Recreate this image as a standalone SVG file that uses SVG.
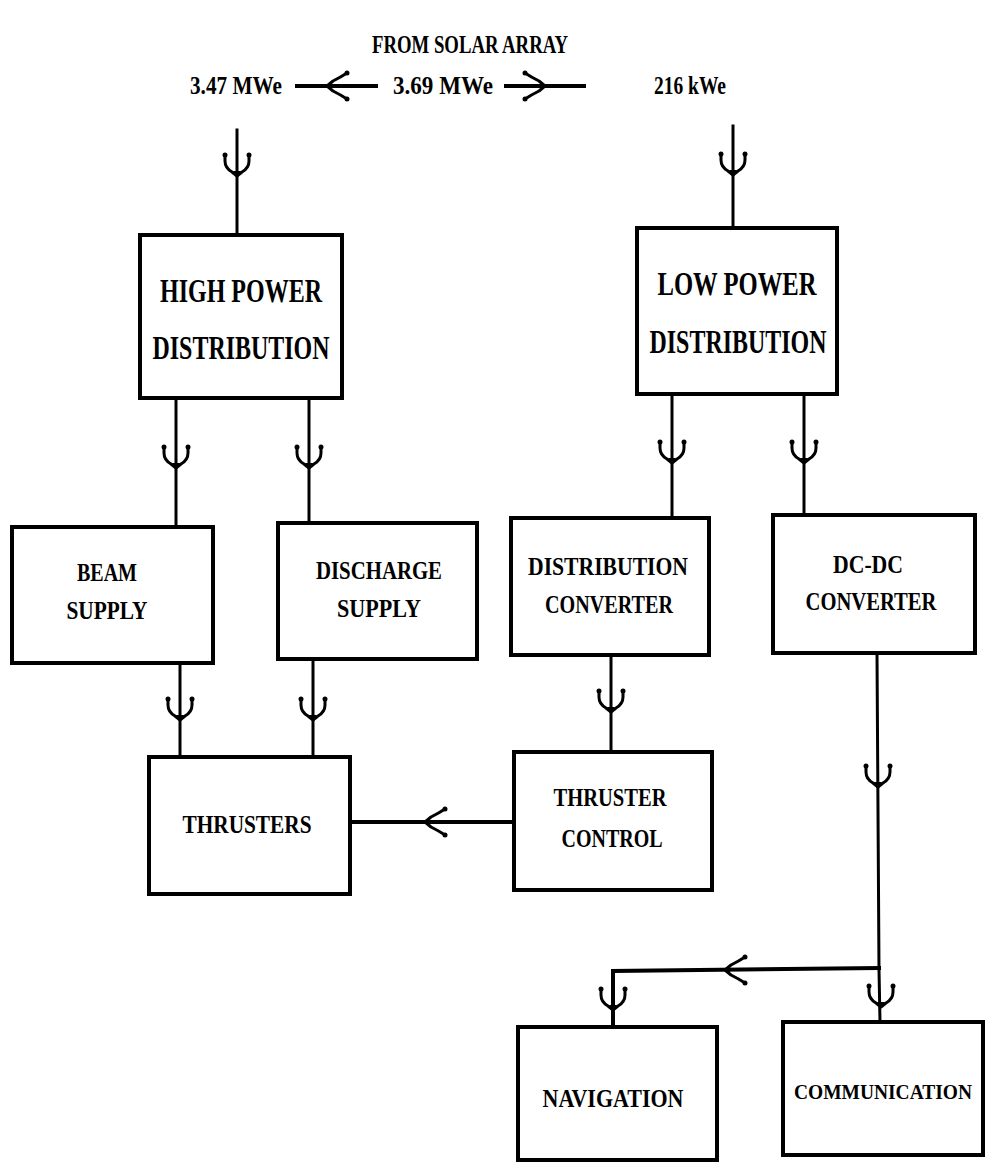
<svg xmlns="http://www.w3.org/2000/svg" xmlns:xlink="http://www.w3.org/1999/xlink" width="989" height="1162" viewBox="0 0 989 1162">
<style>
.box{fill:#fff;stroke:#000;stroke-width:4}
.ln{fill:none;stroke:#000;stroke-width:3;stroke-linecap:square}
.thick{stroke-width:4}
.t{font-family:"Liberation Serif",serif;font-weight:bold;fill:#000;text-anchor:middle}
.s{font-size:26px}
.l{font-size:34px}
.fk{fill:none;stroke:#000;stroke-width:3;stroke-linecap:round;stroke-linejoin:round}
</style>
<defs>
<g id="fork">
<path class="fk" d="M-12,-21 L-12,-15 Q-12,-8 -5,-4 L0,0 M12,-21 L12,-15 Q12,-8 5,-4 L0,0"/>
<circle cx="-12" cy="-21" r="2.5"/><circle cx="12" cy="-21" r="2.5"/>
<path d="M-4,-5 L4,-5 L0,1 Z"/>
</g>
<g id="hfork">
<path class="fk" d="M-13,-20 Q-9,-14 -5,-6 L0,0 M13,-20 Q9,-14 5,-6 L0,0"/>
<circle cx="-13" cy="-20" r="2.5"/><circle cx="13" cy="-20" r="2.5"/>
<path d="M-4,-5 L4,-5 L0,1 Z"/>
</g>
</defs>
<rect width="989" height="1162" fill="#fff"/>

<g id="title">
<text class="t s" x="470" y="53" textLength="196" lengthAdjust="spacingAndGlyphs">FROM SOLAR ARRAY</text>
<text class="t s" x="236" y="94" textLength="92" lengthAdjust="spacingAndGlyphs">3.47 MWe</text>
<text class="t s" x="443" y="94" textLength="100" lengthAdjust="spacingAndGlyphs">3.69 MWe</text>
<text class="t s" x="690" y="94" textLength="72" lengthAdjust="spacingAndGlyphs">216 kWe</text>
</g>

<g id="connectors">
<line class="ln thick" x1="297" y1="86" x2="376" y2="86"/>
<use xlink:href="#hfork" transform="translate(327,86) rotate(90)"/>
<line class="ln thick" x1="506" y1="86" x2="584" y2="86"/>
<use xlink:href="#hfork" transform="translate(545,86) rotate(-90)"/>

<line class="ln" x1="237" y1="130" x2="237" y2="235"/>
<use xlink:href="#fork" transform="translate(237,176)"/>
<line class="ln" x1="733" y1="126" x2="733" y2="228"/>
<use xlink:href="#fork" transform="translate(733,175)"/>

<line class="ln" x1="176" y1="398" x2="176" y2="527"/>
<use xlink:href="#fork" transform="translate(176,468)"/>
<line class="ln" x1="309" y1="398" x2="309" y2="523"/>
<use xlink:href="#fork" transform="translate(309,468)"/>

<line class="ln" x1="672" y1="394" x2="672" y2="518"/>
<use xlink:href="#fork" transform="translate(672,463)"/>
<line class="ln" x1="804" y1="394" x2="804" y2="515"/>
<use xlink:href="#fork" transform="translate(804,463)"/>

<line class="ln" x1="180" y1="663" x2="180" y2="757"/>
<use xlink:href="#fork" transform="translate(180,720)"/>
<line class="ln" x1="313" y1="659" x2="313" y2="757"/>
<use xlink:href="#fork" transform="translate(313,720)"/>

<line class="ln" x1="611" y1="655" x2="611" y2="752"/>
<use xlink:href="#fork" transform="translate(611,712)"/>

<line class="ln thick" x1="350" y1="822" x2="514" y2="822"/>
<use xlink:href="#hfork" transform="translate(425,822) rotate(90)"/>

<path class="ln" d="M877,653 L879,970 L880,1022"/>
<use xlink:href="#fork" transform="translate(878,787)"/>
<use xlink:href="#fork" transform="translate(881,1007)"/>
<path class="ln thick" d="M879,968 L613,971 L613,1027"/>
<use xlink:href="#hfork" transform="translate(725,970) rotate(90)"/>
<use xlink:href="#fork" transform="translate(613,1010)"/>
</g>

<g id="high-power-distribution">
<rect class="box" x="140" y="235" width="202" height="163"/>
<text class="t l" x="241" y="302" textLength="162" lengthAdjust="spacingAndGlyphs">HIGH POWER</text>
<text class="t l" x="241" y="359" textLength="177" lengthAdjust="spacingAndGlyphs">DISTRIBUTION</text>
</g>
<g id="low-power-distribution">
<rect class="box" x="637" y="228" width="200" height="166"/>
<text class="t l" x="737" y="295" textLength="159" lengthAdjust="spacingAndGlyphs">LOW POWER</text>
<text class="t l" x="738" y="353" textLength="177" lengthAdjust="spacingAndGlyphs">DISTRIBUTION</text>
</g>
<g id="beam-supply">
<rect class="box" x="12" y="527" width="201" height="136"/>
<text class="t s" x="107" y="581" textLength="60" lengthAdjust="spacingAndGlyphs">BEAM</text>
<text class="t s" x="107" y="619" textLength="81" lengthAdjust="spacingAndGlyphs">SUPPLY</text>
</g>
<g id="discharge-supply">
<rect class="box" x="278" y="523" width="199" height="136"/>
<text class="t s" x="379" y="579" textLength="126" lengthAdjust="spacingAndGlyphs">DISCHARGE</text>
<text class="t s" x="379" y="617" textLength="84" lengthAdjust="spacingAndGlyphs">SUPPLY</text>
</g>
<g id="distribution-converter">
<rect class="box" x="511" y="518" width="198" height="137"/>
<text class="t s" x="608" y="575" textLength="160" lengthAdjust="spacingAndGlyphs">DISTRIBUTION</text>
<text class="t s" x="609" y="613" textLength="128" lengthAdjust="spacingAndGlyphs">CONVERTER</text>
</g>
<g id="dc-dc-converter">
<rect class="box" x="773" y="515" width="202" height="138"/>
<text class="t s" x="868" y="573" textLength="70" lengthAdjust="spacingAndGlyphs">DC-DC</text>
<text class="t s" x="871" y="610" textLength="131" lengthAdjust="spacingAndGlyphs">CONVERTER</text>
</g>
<g id="thrusters">
<rect class="box" x="149" y="757" width="201" height="137"/>
<text class="t s" x="247" y="833" textLength="129" lengthAdjust="spacingAndGlyphs">THRUSTERS</text>
</g>
<g id="thruster-control">
<rect class="box" x="514" y="752" width="198" height="138"/>
<text class="t s" x="610" y="806" textLength="113" lengthAdjust="spacingAndGlyphs">THRUSTER</text>
<text class="t s" x="612" y="847" textLength="101" lengthAdjust="spacingAndGlyphs">CONTROL</text>
</g>
<g id="navigation">
<rect class="box" x="518" y="1027" width="199" height="133"/>
<text class="t s" x="613" y="1107" textLength="141" lengthAdjust="spacingAndGlyphs">NAVIGATION</text>
</g>
<g id="communication">
<rect class="box" x="783" y="1022" width="200" height="133"/>
<text class="t" font-size="22" x="883" y="1099" textLength="178" lengthAdjust="spacingAndGlyphs">COMMUNICATION</text>
</g>
</svg>
